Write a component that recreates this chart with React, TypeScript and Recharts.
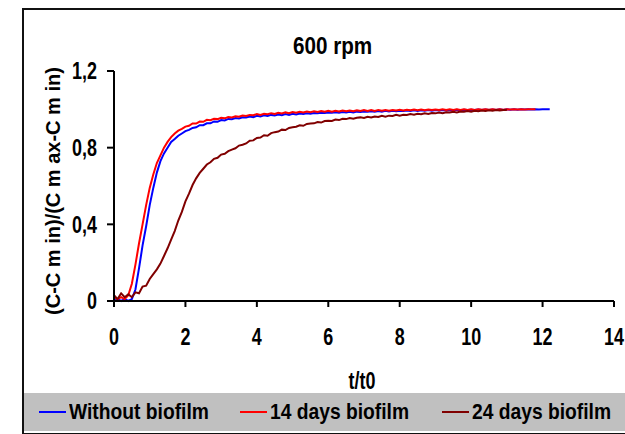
import { LineChart, Line, XAxis, YAxis, Label } from 'recharts'

// sampling grid of the recorded curves (t/t0)
const T_STEP = 0.1

const withoutBiofilm = [
  0.0, 0.01, 0.0, 0.01, 0.0, 0.01,
  0.06, 0.17, 0.29, 0.39, 0.5,
  0.59, 0.67, 0.73, 0.77, 0.8,
  0.83, 0.845, 0.862, 0.874, 0.886,
  0.893, 0.903, 0.906, 0.917, 0.917,
  0.927, 0.927, 0.937, 0.935, 0.944,
  0.942, 0.95, 0.948, 0.955, 0.952,
  0.959, 0.957, 0.963, 0.959, 0.966,
  0.963, 0.969, 0.965, 0.971, 0.968,
  0.973, 0.969, 0.975, 0.971, 0.977,
  0.973, 0.978, 0.976, 0.979, 0.977,
  0.981, 0.979, 0.982, 0.981, 0.983,
  0.982, 0.985, 0.982, 0.986, 0.984,
  0.987, 0.984, 0.988, 0.986, 0.989,
  0.987, 0.99, 0.987, 0.991, 0.988,
  0.992, 0.989, 0.992, 0.99, 0.993,
  0.991, 0.994, 0.991, 0.995, 0.992,
  0.995, 0.993, 0.996, 0.993, 0.996,
  0.994, 0.997, 0.994, 0.997, 0.995,
  0.998, 0.995, 0.998, 0.996, 0.998,
  0.996, 0.999, 0.996, 0.999, 0.997,
  0.999, 0.997, 1.0, 0.997, 1.0,
  0.998, 1.0, 0.998, 1.0, 0.999,
  1.0, 0.999, 1.0, 0.999, 1.0,
  1.0, 1.0,
]

const days14Biofilm = [
  0.02, 0.01, 0.02, 0.01, 0.03, 0.09,
  0.19, 0.3, 0.4, 0.5, 0.59,
  0.66, 0.72, 0.76, 0.8, 0.83,
  0.855, 0.874, 0.889, 0.898, 0.91,
  0.914, 0.926, 0.926, 0.936, 0.935,
  0.945, 0.943, 0.951, 0.949, 0.956,
  0.953, 0.96, 0.958, 0.964, 0.961,
  0.968, 0.965, 0.971, 0.969, 0.975,
  0.971, 0.977, 0.974, 0.98, 0.976,
  0.982, 0.978, 0.984, 0.98, 0.986,
  0.982, 0.987, 0.984, 0.989, 0.985,
  0.99, 0.986, 0.991, 0.987, 0.992,
  0.988, 0.993, 0.989, 0.994, 0.99,
  0.994, 0.99, 0.995, 0.991, 0.996,
  0.992, 0.996, 0.992, 0.997, 0.993,
  0.997, 0.993, 0.997, 0.994, 0.998,
  0.994, 0.998, 0.995, 0.999, 0.995,
  0.999, 0.995, 0.999, 0.996, 0.999,
  0.996, 1.0, 0.996, 1.0, 0.996,
  1.0, 0.997, 1.0, 0.997, 1.0,
  0.997, 1.0, 0.998, 1.0, 0.998,
  1.0, 0.998, 1.0, 0.998, 1.0,
  0.999, 1.0, 0.999, 1.0, 0.999,
  1.0, 1.0, 1.0,
]

const days24Biofilm = [
  0.03, 0.01, 0.04, 0.02, 0.035, 0.02,
  0.045, 0.04, 0.075, 0.08, 0.115,
  0.14, 0.165, 0.195, 0.235, 0.275,
  0.32, 0.365, 0.42, 0.465, 0.52,
  0.56, 0.605, 0.64, 0.668, 0.69,
  0.712, 0.724, 0.742, 0.747, 0.764,
  0.768, 0.782, 0.79, 0.797, 0.811,
  0.815, 0.822, 0.836, 0.838, 0.851,
  0.853, 0.865, 0.862, 0.876, 0.881,
  0.884, 0.894, 0.892, 0.903, 0.906,
  0.909, 0.917, 0.914, 0.924, 0.926,
  0.927, 0.934, 0.931, 0.939, 0.941,
  0.939, 0.947, 0.944, 0.951, 0.949,
  0.955, 0.951, 0.956, 0.958, 0.955,
  0.961, 0.958, 0.963, 0.96, 0.966,
  0.962, 0.967, 0.965, 0.971, 0.967,
  0.972, 0.97, 0.975, 0.972, 0.977,
  0.974, 0.979, 0.976, 0.981, 0.979,
  0.983, 0.98, 0.985, 0.983, 0.987,
  0.984, 0.989, 0.987, 0.991, 0.988,
  0.992, 0.99, 0.994, 0.991, 0.995,
  0.993, 0.996, 0.994, 0.997, 0.996,
]

const xTicks = [0, 2, 4, 6, 8, 10, 12, 14]
const yTicks = [0, 0.4, 0.8, 1.2]

const series = [
  { name: 'Without biofilm', color: '#0000ff', values: withoutBiofilm },
  { name: '14 days biofilm', color: '#ff0000', values: days14Biofilm },
  { name: '24 days biofilm', color: '#800000', values: days24Biofilm },
]

const toPoints = (values: number[]) =>
  values.map((v, i) => ({ t: Math.round(i * T_STEP * 10) / 10, v }))

// no narrow font installed, so Arial-metric bold is squeezed horizontally
const FONT = "'Liberation Sans', Arial, sans-serif"
const SQUEEZE = 0.78
const legendLeft = [39, 240, 442]

const NarrowTick = ({ x, y, payload, anchor, dy, fmt }: any) => (
  <g transform={`translate(${x},${y}) scale(${SQUEEZE},1)`}>
    <text textAnchor={anchor} dy={dy} fill="#000" style={{ fontSize: 23, fontWeight: 700, fontFamily: FONT }}>
      {fmt ? fmt(payload.value) : payload.value}
    </text>
  </g>
)

const narrowText = {
  fontFamily: FONT, fontWeight: 700, fontSize: 22, display: 'inline-block',
  transform: 'scaleX(0.875)', transformOrigin: 'left center', whiteSpace: 'nowrap' as const,
}

export default function App() {
  return (
    <div style={{ position: 'absolute', left: 0, top: 0, width: 625, height: 434, overflow: 'hidden', background: '#fff' }}>
      <div style={{ position: 'absolute', left: 22, top: 8, width: 640, height: 423, border: '2px solid #111' }} />
      <div style={{ position: 'absolute', left: 293, top: 32, lineHeight: '28px', ...narrowText, fontSize: 24, transform: 'scaleX(0.86)' }}>
        600 rpm
      </div>
      <div style={{ position: 'absolute', left: 0, top: 0 }}>
        <LineChart width={625} height={434} margin={{ top: 71, right: 11, left: 0, bottom: 43 }}>
          <XAxis
            type="number"
            dataKey="t"
            domain={[0, 14]}
            ticks={xTicks}
            height={90}
            tickSize={6}
            tickMargin={22}
            tick={<NarrowTick anchor="middle" dy="0.71em" />}
            axisLine={{ stroke: '#000', strokeWidth: 2 }}
            tickLine={{ stroke: '#000', strokeWidth: 2 }}
          >
            <Label
              content={({ viewBox }: any) => {
                const x = viewBox.x + viewBox.width / 2 - 2
                const y = viewBox.y + 88
                return (
                  <g transform={`translate(${x},${y}) scale(${SQUEEZE},1)`}>
                    <text textAnchor="middle" fill="#000" style={{ fontSize: 23, fontWeight: 700, fontFamily: FONT }}>
                      t/t0
                    </text>
                  </g>
                )
              }}
            />
          </XAxis>
          <YAxis
            type="number"
            domain={[0, 1.2]}
            ticks={yTicks}
            width={114}
            tickSize={7}
            tickMargin={10}
            tick={<NarrowTick anchor="end" dy="0.355em" fmt={(v: number) => String(v).replace('.', ',')} />}
            axisLine={{ stroke: '#000', strokeWidth: 2 }}
            tickLine={{ stroke: '#000', strokeWidth: 2 }}
          >
            <Label
              content={({ viewBox }: any) => {
                const x = viewBox.x + 53
                const y = viewBox.y + viewBox.height / 2 + 5
                return (
                  <text
                    x={x}
                    y={y}
                    transform={`rotate(-90 ${x} ${y})`}
                    textAnchor="middle"
                    dominantBaseline="central"
                    style={{ fontSize: 20, fontWeight: 700, fontFamily: FONT }}
                    fill="#000"
                  >
                    (C-C m in)/(C m ax-C m in)
                  </text>
                )
              }}
            />
          </YAxis>
          {series.map((s) => (
            <Line
              key={s.name}
              data={toPoints(s.values)}
              dataKey="v"
              name={s.name}
              type="linear"
              stroke={s.color}
              strokeWidth={2}
              dot={false}
              isAnimationActive={false}
            />
          ))}
        </LineChart>
      </div>
      <div style={{ position: 'absolute', left: 24, top: 393, width: 601, height: 38, background: '#c0c0c0' }}>
        {series.map((s, i) => (
          <div
            key={s.name}
            style={{ position: 'absolute', left: legendLeft[i] - 24, top: 0, height: 38, display: 'flex', alignItems: 'center' }}
          >
            <span style={{ display: 'inline-block', width: 27, height: 2, background: s.color, marginRight: 3 }} />
            <span style={narrowText}>{s.name}</span>
          </div>
        ))}
      </div>
    </div>
  )
}
